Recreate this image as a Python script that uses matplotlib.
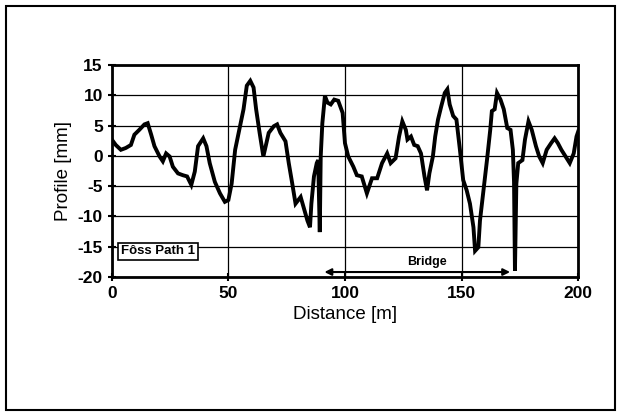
import matplotlib.pyplot as plt

plt.rcParams['font.family'] = ['Liberation Sans', 'DejaVu Sans']
plt.rcParams['axes.unicode_minus'] = False

# profile (distance m, profile mm)
distance = [0, 1.7, 3.9, 6, 8.2, 9.7, 11.8, 14, 15.4, 16.9, 18.3, 20.5, 21.9, 23.3, 24.8,
            26.2, 28.4, 30.5, 32.3, 34.1, 35.6, 37, 39.2, 40.6, 42, 44.2, 46.4, 48.5, 50,
            51.4, 52.9, 55, 56.5, 57.9, 59.4, 60.8, 61.9, 63.4, 65, 66.3, 67.3, 69.5, 70.9,
            72.3, 74.5, 75.9, 77.4, 78.8, 81, 82.4, 83.9, 85, 85.6, 86.7, 87.9, 88.5, 89.2,
            89.6, 90.3, 91.4, 92.5, 93.9, 95.4, 97.1, 99, 100, 101.4, 103.6, 105.1, 107.2,
            109.4, 111.6, 113.8, 115.9, 118.1, 119.6, 121.7, 123.2, 124.6, 126.1, 126.8,
            128.3, 129.7, 131.2, 132.6, 134.1, 135.2, 136.2, 137.7, 138.7, 139.9, 141.3,
            142.8, 143.9, 144.9, 146.4, 147.8, 149.3, 150.7, 152.2, 153.6, 155.1, 155.8,
            157.2, 157.9, 159.4, 160.9, 162.3, 163, 164.2, 165.2, 166.7, 168.1, 169.6, 171,
            172, 172.5, 172.9, 173.5, 174.3, 176.1, 177.2, 178.7, 180.1, 181.9, 183.3,
            184.8, 186.5, 188.4, 189.9, 191.3, 192.8, 194.6, 196.4, 198.1, 199.3, 200]
profile = [2.7, 1.8, 1.0, 1.3, 1.8, 3.5, 4.3, 5.2, 5.4, 3.5, 1.6, -0.1, -0.9, 0.4, -0.1,
           -1.8, -2.9, -3.2, -3.4, -4.8, -2.6, 1.6, 2.9, 1.6, -1.2, -4.3, -6.2, -7.6, -7.3,
           -4.6, 1.0, 4.9, 7.7, 11.6, 12.4, 11.3, 7.7, 3.8, -0.1, 2.1, 3.8, 4.9, 5.2,
           3.8, 2.4, -1.2, -4.6, -7.9, -6.8, -8.7, -10.7, -11.8, -7.9, -3.4, -1.2, -0.7, -12.6,
           -0.1, 5.4, 9.9, 8.8, 8.5, 9.3, 9.1, 7.1, 2.1, -0.1, -1.8, -3.2, -3.4,
           -6.2, -3.7, -3.7, -1.2, 0.4, -1.2, -0.4, 3.2, 5.7, 4.3, 2.7,
           3.2, 1.8, 1.6, 0.4, -3.4, -5.7, -2.9, -0.1, 3.2, 6.0, 8.2,
           10.4, 11.0, 8.5, 6.6, 6.0, 1.0, -4.0, -5.7, -7.9, -11.8, -15.7,
           -15.1, -10.7, -5.7, -0.7, 4.3, 7.4, 7.7, 10.4, 9.3, 7.7, 4.6, 4.3,
           1.0, -4.3, -19.0, -4.6, -1.2, -0.7, 2.7, 5.7, 4.3, 1.6, -0.1,
           -1.2, 1.0, 2.1, 2.9, 2.1, 1.0, -0.1, -1.2, 0.4, 3.2, 4.0]

x_ticks = [0, 50, 100, 150, 200]
y_ticks = [-20, -15, -10, -5, 0, 5, 10, 15]
bridge_start, bridge_end = 90, 172

fig = plt.figure(figsize=(6.21, 4.12), dpi=100)
fig.patches.append(plt.Rectangle((0.01, 0.005), 0.98, 0.98, transform=fig.transFigure,
                                 fill=False, edgecolor='black', linewidth=1.5))
ax = fig.add_axes([0.180, 0.328, 0.751, 0.514])

ax.plot(distance, profile, color='black', linewidth=2.8, solid_joinstyle='miter')

ax.set_xlim(0, 200)
ax.set_ylim(-20, 15)
ax.set_xticks(x_ticks)
ax.set_yticks(y_ticks)
ax.grid(True, color='black', linewidth=0.9)
ax.tick_params(direction='inout', length=6, width=1.5, labelsize=12.5)
for lbl in ax.get_xticklabels() + ax.get_yticklabels():
    lbl.set_fontweight('bold')
for s in ax.spines.values():
    s.set_linewidth(2)

ax.set_xlabel('Distance [m]', fontsize=13.5)
ax.set_ylabel('Profile [mm]', fontsize=13.5)

ax.annotate('', xy=(bridge_start, -19.2), xytext=(bridge_end, -19.2),
            arrowprops=dict(arrowstyle='<|-|>', color='black', lw=1.5, mutation_scale=10))
ax.text((bridge_start + bridge_end) / 2 + 4, -17.6, 'Bridge', fontsize=9,
        fontweight='bold', ha='center', va='center')
ax.text(4, -15.8, 'Fôss Path 1', fontsize=9.5, fontweight='bold', ha='left', va='center',
        bbox=dict(boxstyle='square,pad=0.2', facecolor='white', edgecolor='black', lw=1.2))

fig.savefig('out.png', dpi=100)
